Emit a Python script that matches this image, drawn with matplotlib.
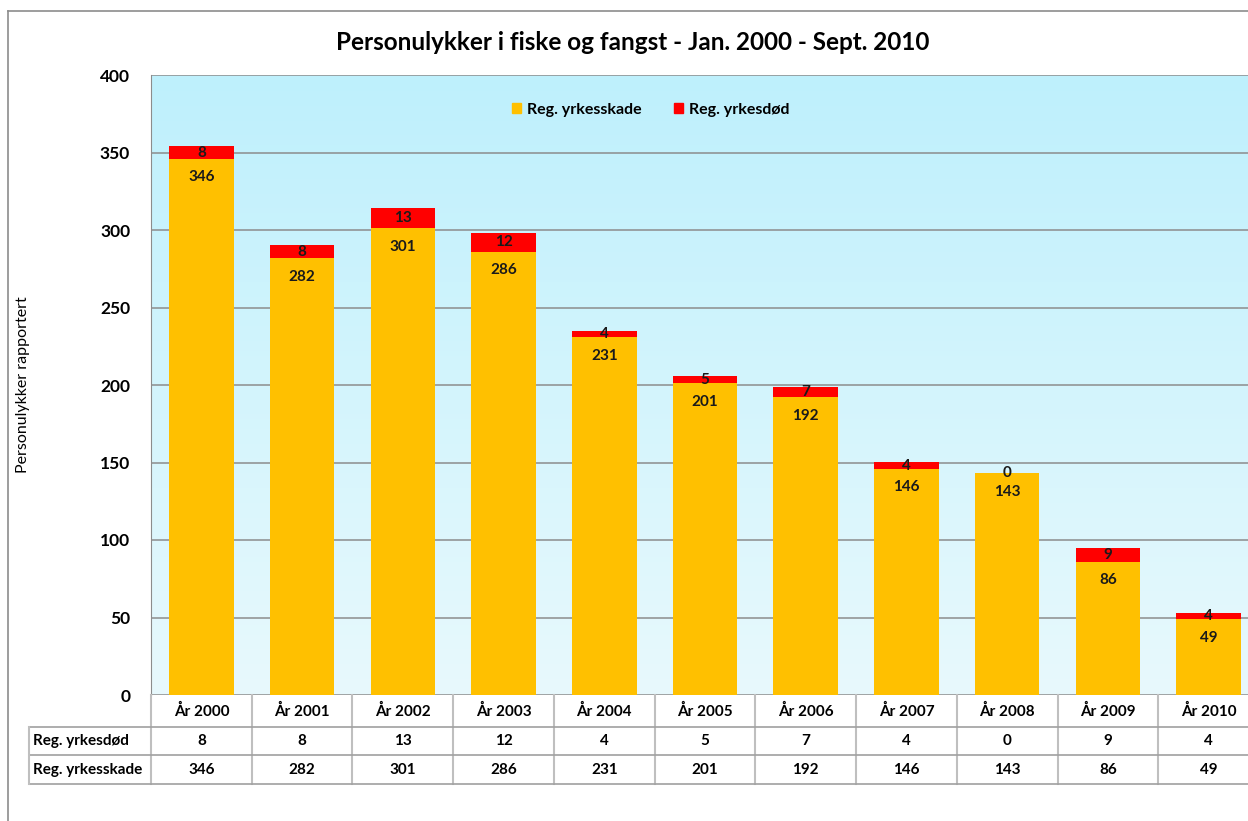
import numpy as np
import matplotlib
matplotlib.use("Agg")
import matplotlib.pyplot as plt
from matplotlib.lines import Line2D
from matplotlib.patches import Patch
import matplotlib.transforms as mtransforms

plt.rcParams['font.family'] = ['Lato', 'DejaVu Sans']
plt.rcParams['font.weight'] = 'bold'

# data
years = ['År 2000', 'År 2001', 'År 2002', 'År 2003', 'År 2004', 'År 2005',
         'År 2006', 'År 2007', 'År 2008', 'År 2009', 'År 2010']
yrkesskade = [346, 282, 301, 286, 231, 201, 192, 146, 143, 86, 49]
yrkesdod = [8, 8, 13, 12, 4, 5, 7, 4, 0, 9, 4]

orange = '#FFC000'
red = '#FF0000'
W, H = 1248, 821

fig = plt.figure(figsize=(W / 100, H / 100), dpi=100)

def fx(px):
    return px / W

def fy(py):
    return 1 - py / H

# outer frame of the chart object (cropped on the right)
fig.add_artist(Line2D([fx(8), fx(8)], [fy(11), 0], color='#8c8c8c', lw=1.2))
fig.add_artist(Line2D([fx(8), 1], [fy(11), fy(11)], color='#8c8c8c', lw=1.2))

left, right, top, bottom = 151, 1259, 75, 695
ax = fig.add_axes([fx(left), fy(bottom), fx(right - left), fy(top) - fy(bottom)])

n = len(years)
x = np.arange(n)
ax.set_xlim(-0.5, n - 0.5)
ax.set_ylim(0, 400)

# light blue gradient background
grad = np.linspace(0, 1, 256).reshape(-1, 1)
c_top = np.array([0xBE, 0xF0, 0xFC]) / 255
c_bot = np.array([0xE8, 0xF9, 0xFD]) / 255
img = c_top[None, None, :] * (1 - grad[:, :, None]) + c_bot[None, None, :] * grad[:, :, None]
ax.imshow(img, extent=[-0.5, n - 0.5, 0, 400], aspect='auto', zorder=0, origin='upper')

ax.yaxis.grid(True, color='#8c8c8c', lw=1.1, zorder=1)
ax.set_axisbelow(True)

b1 = ax.bar(x, yrkesskade, width=0.64, color=orange, zorder=2, label='Reg. yrkesskade')
b2 = ax.bar(x, yrkesdod, width=0.64, bottom=yrkesskade, color=red, zorder=2, label='Reg. yrkesdød')

for xi, v, d in zip(x, yrkesskade, yrkesdod):
    ax.annotate(str(v), (xi, v), xytext=(0, -13.5), textcoords='offset points',
                ha='center', va='center', fontsize=11, fontweight='bold', color='#1a1a1a', zorder=3)
    ax.text(xi, v + d / 2, str(d), ha='center', va='center', fontsize=11,
            fontweight='bold', color='#1a1a1a', zorder=3)

for s in ['top', 'right', 'bottom']:
    ax.spines[s].set_visible(False)
ax.spines['left'].set_color('#8c8c8c')
ax.set_yticks(range(0, 401, 50))
ax.tick_params(axis='y', length=0, pad=15, labelsize=12.5)
ax.set_xticks([])
for lab in ax.get_yticklabels():
    lab.set_fontweight('bold')

ax.set_ylabel('Personulykker rapportert', fontsize=11.5, fontweight='normal', labelpad=50)

ax.legend(handles=[Patch(color=orange, label='Reg. yrkesskade'), Patch(color=red, label='Reg. yrkesdød')],
          loc='center', bbox_to_anchor=(0.451, 0.944), ncol=2, frameon=False,
          handlelength=0.55, handleheight=0.55, columnspacing=2.0, handletextpad=0.4,
          prop={'size': 11.5, 'weight': 'bold'})

fig.text(fx(633), fy(42), 'Personulykker i fiske og fangst - Jan. 2000 - Sept. 2010',
         ha='center', va='center', fontsize=17.5, fontweight='bold')

# data table under the plot
trans = mtransforms.blended_transform_factory(ax.transData, fig.transFigure)
row_y = [695, 727, 755, 784]
line_c = '#bfbfbf'
hline_c = '#a0a0a0'
for k in range(n + 1):
    xb = k - 0.5
    fig.add_artist(Line2D([xb, xb], [fy(row_y[0]), fy(row_y[3])], transform=trans,
                          color=line_c, lw=1.5))
for ry in row_y[1:]:
    fig.add_artist(Line2D([fx(29), 1], [fy(ry), fy(ry)], color=hline_c, lw=1.2))
fig.add_artist(Line2D([fx(29), fx(29)], [fy(row_y[1]), fy(row_y[3])], color=line_c, lw=1.5))

for xi, yr, d, v in zip(x, years, yrkesdod, yrkesskade):
    fig.text(xi, fy(711), yr, transform=trans, ha='center', va='center', fontsize=11, fontweight='bold')
    fig.text(xi, fy(741), str(d), transform=trans, ha='center', va='center', fontsize=11, fontweight='bold')
    fig.text(xi, fy(770), str(v), transform=trans, ha='center', va='center', fontsize=11, fontweight='bold')
fig.text(fx(33), fy(741), 'Reg. yrkesdød', ha='left', va='center', fontsize=11, fontweight='bold')
fig.text(fx(33), fy(770), 'Reg. yrkesskade', ha='left', va='center', fontsize=11, fontweight='bold')

fig.savefig('out.png', dpi=100)
